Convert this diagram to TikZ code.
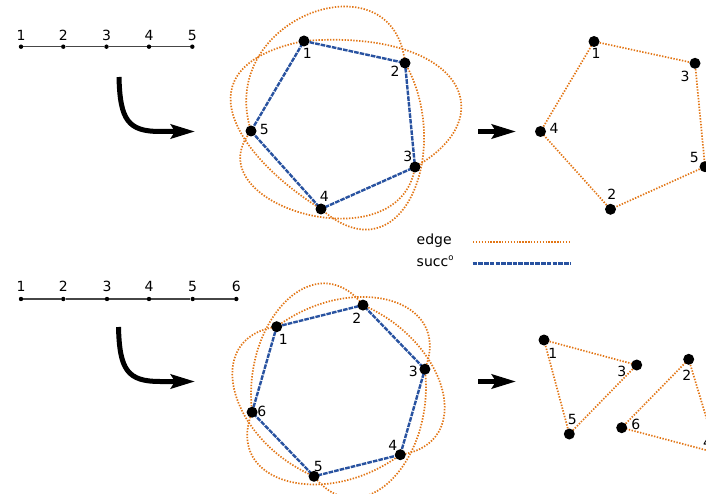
\documentclass[tikz,border=0pt]{standalone}
\usepackage{fontspec}
\setmainfont{DejaVu Sans}
\usetikzlibrary{arrows.meta,calc,backgrounds}
\definecolor{edgeorange}{RGB}{226,118,22}
\definecolor{succblue}{RGB}{40,82,160}
\definecolor{chaingray}{RGB}{70,70,70}
\begin{document}
\begin{tikzpicture}[x=1pt,y=-1pt,
  vtx/.style={circle,fill=black,inner sep=0pt,minimum size=11pt},
  cdot/.style={circle,fill=black,inner sep=0pt,minimum size=4.4pt},
  lbl/.style={inner sep=0pt,font=\fontsize{14}{16}\selectfont},
  legtext/.style={inner sep=0pt,anchor=base west,font=\fontsize{14}{16}\selectfont},
  edgeline/.style={draw=edgeorange,line width=1.7pt,dash pattern=on 1.4pt off 1.5pt},
  succline/.style={draw=succblue,line width=2.4pt,dash pattern=on 4.6pt off 1.1pt},
  chainline/.style={draw=chaingray,line width=1.2pt},
  bigarrow/.style={draw=black,line width=5pt,-{Stealth[length=24pt,width=14pt,inset=4pt]}}
]
\useasboundingbox (0,0) rectangle (706,494);

% ---------------- top chain ----------------
\node[cdot] (a1) at (21,46.7) {};
\node[cdot] (a2) at (63.3,46.7) {};
\node[cdot] (a3) at (106.5,46.7) {};
\node[cdot] (a4) at (149,46.7) {};
\node[cdot] (a5) at (192.3,46.7) {};
\node[lbl] (la1) at (21,35) {1};
\node[lbl] (la2) at (63.3,35) {2};
\node[lbl] (la3) at (106.5,35) {3};
\node[lbl] (la4) at (149,35) {4};
\node[lbl] (la5) at (192.3,35) {5};

% ---------------- bottom chain ----------------
\node[cdot] (b1c) at (21,299) {};
\node[cdot] (b2c) at (63.3,299) {};
\node[cdot] (b3c) at (107,299) {};
\node[cdot] (b4c) at (149,299) {};
\node[cdot] (b5c) at (192.7,299) {};
\node[cdot] (b6c) at (236.3,299) {};
\node[lbl] (lb1) at (21,286.7) {1};
\node[lbl] (lb2) at (63.3,286.7) {2};
\node[lbl] (lb3) at (107,286.7) {3};
\node[lbl] (lb4) at (149,286.7) {4};
\node[lbl] (lb5) at (192.7,286.7) {5};
\node[lbl] (lb6) at (236.3,286.7) {6};

% ---------------- top middle pentagon ----------------
\node[vtx] (t1) at (304,41) {};
\node[vtx] (t2) at (405,63) {};
\node[vtx] (t3) at (415,167) {};
\node[vtx] (t4) at (321,209) {};
\node[vtx] (t5) at (251,131) {};
\node[lbl] (lt1) at (307.3,53.3) {1};
\node[lbl] (lt2) at (395,71.7) {2};
\node[lbl] (lt3) at (407.7,156.7) {3};
\node[lbl] (lt4) at (324.3,196) {4};
\node[lbl] (lt5) at (264.3,129.3) {5};

% ---------------- top right pentagon ----------------
\node[vtx] (r1) at (594,41.5) {};
\node[vtx] (r3) at (695,63.3) {};
\node[vtx] (r5) at (705,166.7) {};
\node[vtx] (r2) at (610.5,209.3) {};
\node[vtx] (r4) at (540.5,131.5) {};
\node[lbl] (lr1) at (596,53.3) {1};
\node[lbl] (lr3) at (685,76) {3};
\node[lbl] (lr5) at (694.3,157.7) {5};
\node[lbl] (lr2) at (611.7,194) {2};
\node[lbl] (lr4) at (554,128.3) {4};

% ---------------- bottom middle hexagon ----------------
\coordinate (hc) at (338.5,390.7);
\node[vtx] (h1) at (276.7,326.7) {};
\node[vtx] (h2) at (363,305.1) {};
\node[vtx] (h3) at (424.9,369.2) {};
\node[vtx] (h4) at (400.3,454.7) {};
\node[vtx] (h5) at (314,476.3) {};
\node[vtx] (h6) at (252.1,412.2) {};
\node[lbl] (lh1) at (283.3,339) {1};
\node[lbl] (lh2) at (356.7,318.3) {2};
\node[lbl] (lh3) at (413.3,371.7) {3};
\node[lbl] (lh4) at (392.7,445) {4};
\node[lbl] (lh5) at (318.3,466.7) {5};
\node[lbl] (lh6) at (261.7,411.7) {6};

% ---------------- bottom right triangles ----------------
\node[vtx] (q1) at (544,340) {};
\node[vtx] (q3) at (636.7,365) {};
\node[vtx] (q5) at (569.3,434) {};
\node[vtx] (q2) at (688.7,359.3) {};
\node[vtx] (q6) at (621.7,427.7) {};
\node[vtx] (q4) at (717,453) {};
\node[lbl] (lq1) at (552.7,353.3) {1};
\node[lbl] (lq3) at (621.7,371) {3};
\node[lbl] (lq5) at (572.3,419.3) {5};
\node[lbl] (lq6) at (635.7,424) {6};
\node[lbl] (lq2) at (686.7,375) {2};
\node[lbl] (lq4) at (707.5,442) {4};

% ---------------- legend ----------------
\node[legtext] (legedge) at (416.5,244) {edge};
\node[legtext] (legsucc) at (416.5,266.5) {succ\raisebox{6.3pt}{\fontsize{8.5}{9}\selectfont o}};
\coordinate (le1) at (473,242.3);
\coordinate (le2) at (569.5,242.3);
\coordinate (ls1) at (472.7,263.3);
\coordinate (ls2) at (570.7,263.3);
\draw[edgeline] (le1) -- (le2);
\draw[succline] (ls1) -- (ls2);

% ---------------- arrows ----------------
\coordinate (ca1s) at (119,77);
\coordinate (ca1m) at (160,131.5);
\coordinate (ca1e) at (195,131.5);
\draw[bigarrow] (ca1s) .. controls (120,120) and (128,131.5) .. (ca1m) -- (ca1e);
\coordinate (ca2s) at (118.5,327);
\coordinate (ca2m) at (160,381.5);
\coordinate (ca2e) at (195,381.5);
\draw[bigarrow] (ca2s) .. controls (119.5,370) and (127.5,381.5) .. (ca2m) -- (ca2e);
\coordinate (sa1s) at (478,131.5);
\coordinate (sa1e) at (516,131.5);
\draw[bigarrow] (sa1s) -- (sa1e);
\coordinate (sa2s) at (478,381.5);
\coordinate (sa2e) at (516,381.5);
\draw[bigarrow] (sa2s) -- (sa2e);

\begin{pgfonlayer}{background}
  % chains
  \draw[chainline] (a1) -- (a2) -- (a3) -- (a4) -- (a5);
  \draw[chainline] (b1c) -- (b2c) -- (b3c) -- (b4c) -- (b5c) -- (b6c);

  % top middle: edge arcs
  \draw[edgeline] (t1.center) .. controls (460,28.5) and (506,115.5) .. (t3.center);
  \draw[edgeline] (t2.center) .. controls (454,148.7) and (402.5,280.7) .. (t4.center);
  \draw[edgeline] (t3.center) .. controls (400,266) and (191,205) .. (t5.center);
  \draw[edgeline] (t4.center) .. controls (236.6,156.4) and (176.6,67) .. (t1.center);
  \draw[edgeline] (t5.center) .. controls (215,17) and (394,-46) .. (t2.center);
  % top middle: succ cycle
  \draw[succline] (t1.center) -- (t2.center) -- (t3.center) -- (t4.center) -- (t5.center) -- cycle;

  % top right
  \draw[edgeline] (r1.center) -- (r3.center);
  \draw[edgeline] (r3.center) -- (r5.center);
  \draw[edgeline] (r5.center) -- (r2.center);
  \draw[edgeline] (r2.center) -- (r4.center);
  \draw[edgeline] (r4.center) -- (r1.center);

  % bottom middle: edge arcs
  \draw[edgeline] (h1.center) .. controls ($(hc)+(-84:120)$) and ($(hc)+(-39:148)$) .. (h3.center);
  \draw[edgeline] (h2.center) .. controls ($(hc)+(-24:120)$) and ($(hc)+(21:148)$) .. (h4.center);
  \draw[edgeline] (h3.center) .. controls ($(hc)+(36:120)$) and ($(hc)+(81:148)$) .. (h5.center);
  \draw[edgeline] (h4.center) .. controls ($(hc)+(96:120)$) and ($(hc)+(141:148)$) .. (h6.center);
  \draw[edgeline] (h5.center) .. controls ($(hc)+(156:120)$) and ($(hc)+(201:148)$) .. (h1.center);
  \draw[edgeline] (h6.center) .. controls ($(hc)+(216:120)$) and ($(hc)+(261:148)$) .. (h2.center);
  % bottom middle: succ cycle
  \draw[succline] (h1.center) -- (h2.center) -- (h3.center) -- (h4.center) -- (h5.center) -- (h6.center) -- cycle;

  % bottom right
  \draw[edgeline] (q1.center) -- (q3.center);
  \draw[edgeline] (q3.center) -- (q5.center);
  \draw[edgeline] (q5.center) -- (q1.center);
  \draw[edgeline] (q2.center) -- (q4.center);
  \draw[edgeline] (q4.center) -- (q6.center);
  \draw[edgeline] (q6.center) -- (q2.center);
\end{pgfonlayer}
\end{tikzpicture}
\end{document}
